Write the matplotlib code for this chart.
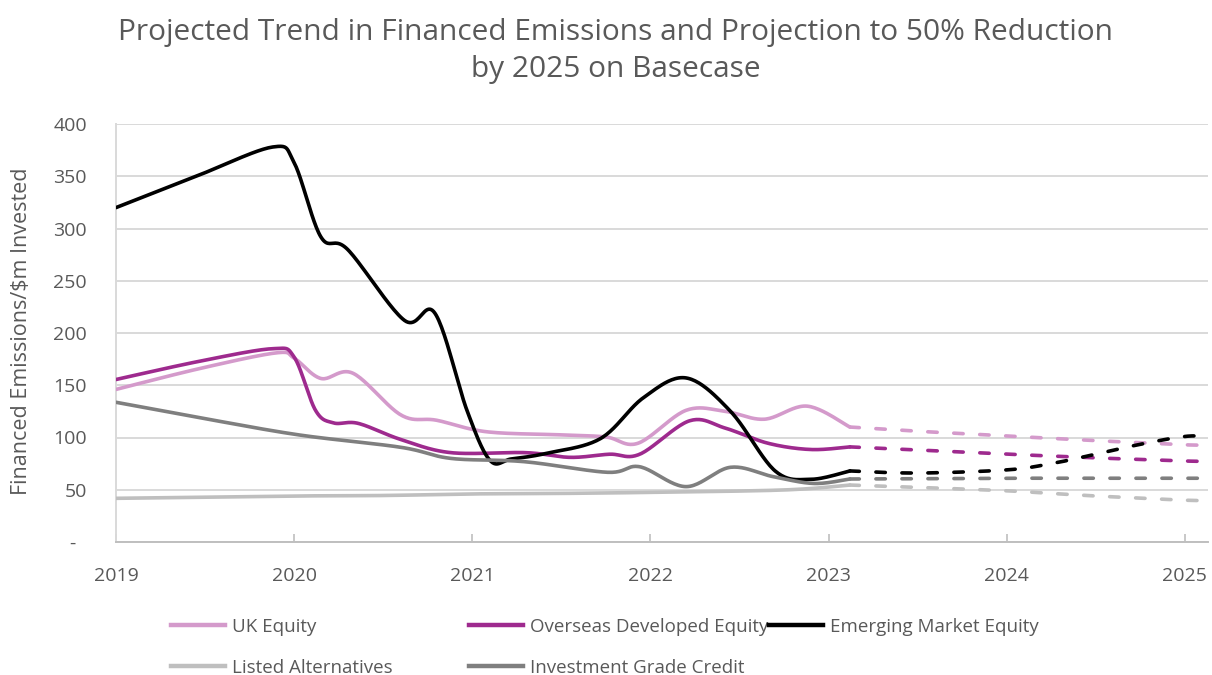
import numpy as np
import matplotlib
matplotlib.use("Agg")
import matplotlib.pyplot as plt
from matplotlib.lines import Line2D

# ---------------- data ----------------
series_names = ["UK Equity", "Overseas Developed Equity", "Emerging Market Equity",
                "Listed Alternatives", "Investment Grade Credit"]

uk_x = [2019.0, 2019.47, 2019.9, 2020.0, 2020.15, 2020.33, 2020.6, 2020.8, 2021.08,
        2021.5, 2021.75, 2021.93, 2022.2, 2022.42, 2022.64, 2022.88, 2023.12]
uk_y = [146, 166, 181, 176, 156.5, 161.5, 121.5, 116.5, 105.5,
        102.5, 100.5, 94.5, 126, 125, 117.5, 130, 110]

ode_x = [2019.0, 2019.47, 2019.88, 2020.0, 2020.12, 2020.22, 2020.36, 2020.6, 2020.88,
         2021.3, 2021.55, 2021.77, 2021.94, 2022.22, 2022.42, 2022.66, 2022.9, 2023.12]
ode_y = [155.5, 173, 185, 177, 126, 114, 113.5, 98, 85.5,
         85.5, 81, 84, 84, 116, 109, 94.5, 88.5, 91]

em_x = [2019.0, 2019.45, 2019.88, 2020.0, 2020.15, 2020.3, 2020.62, 2020.79, 2020.97,
        2021.1, 2021.22, 2021.42, 2021.72, 2021.96, 2022.2, 2022.45, 2022.7, 2022.9, 2023.12]
em_y = [320, 350, 378, 363, 292, 280, 212, 219, 126,
        78, 79.5, 85, 99, 138, 157, 125, 68, 60, 68]

la_x = [2019.0, 2020.0, 2020.5, 2021.0, 2021.5, 2022.0, 2022.75, 2023.12]
la_y = [41.8, 44, 44.5, 46, 46.5, 47.5, 49.8, 54.5]

igc_x = [2019.0, 2019.5, 2020.03, 2020.6, 2020.88, 2021.29, 2021.76, 2021.94, 2022.2,
         2022.45, 2022.69, 2022.92, 2023.12]
igc_y = [133.7, 118, 102.4, 90.6, 80, 76.9, 66.7, 72, 53,
         71.5, 62.5, 56, 60.3]

# projections (dashed)
proj_x = [2023.12, 2023.5, 2024.0, 2024.25, 2024.5, 2024.75, 2025.0, 2025.15]
uk_proj = [110, 106, 101.5, 99.2, 97, 95, 93, 92.5]
ode_proj = [91, 88, 84, 82.3, 80.5, 79, 77.5, 77]
em_proj = [68, 66, 69, 75, 84, 93.5, 101, 101]
la_proj = [54.5, 52.3, 49, 46.5, 44, 42, 40, 39.5]
igc_proj = [60.3, 60.5, 61, 61, 61, 61, 61, 61]

year_ticks = [2019, 2020, 2021, 2022, 2023, 2024, 2025]
value_ticks = [0, 50, 100, 150, 200, 250, 300, 350, 400]
value_labels = ["-  ", "50", "100", "150", "200", "250", "300", "350", "400"]

colors = ["#D49ACB", "#9E2A8E", "#000000", "#BFBFBF", "#7F7F7F"]

title = "Projected Trend in Financed Emissions and Projection to 50% Reduction\nby 2025 on Basecase"
ylabel = "Financed Emissions/$m Invested"

# ---------------- helpers ----------------
XS, YS = 178.0, 1.045  # approx pixels per year / per unit, for screen-space smoothing


def smooth(xs, ys, n=24):
    """Excel-like smoothed line: Catmull-Rom converted to cubic Bezier in screen space."""
    P = np.column_stack([np.asarray(xs, float) * XS, np.asarray(ys, float) * YS])
    if len(P) < 3:
        return np.asarray(xs, float), np.asarray(ys, float)
    Pp = np.vstack([P[0], P, P[-1]])
    out = [P[:1]]
    t = np.linspace(0, 1, n + 1)[1:, None]
    for i in range(1, len(Pp) - 2):
        p0, p1, p2, p3 = Pp[i - 1], Pp[i], Pp[i + 1], Pp[i + 2]
        c1 = p1 + (p2 - p0) / 6.0
        c2 = p2 - (p3 - p1) / 6.0
        seg = ((1 - t) ** 3) * p1 + 3 * ((1 - t) ** 2) * t * c1 + 3 * (1 - t) * t ** 2 * c2 + t ** 3 * p2
        out.append(seg)
    Q = np.vstack(out)
    return Q[:, 0] / XS, Q[:, 1] / YS


# ---------------- figure ----------------
plt.rcParams['font.family'] = ['Open Sans', 'DejaVu Sans']
TXT = "#595959"

fig = plt.figure(figsize=(12.12, 6.75), dpi=100)
ax = fig.add_axes([116 / 1212, 133 / 675, 1092 / 1212, 418 / 675])

solid = [(uk_x, uk_y), (ode_x, ode_y), (em_x, em_y), (la_x, la_y), (igc_x, igc_y)]
proj = [uk_proj, ode_proj, em_proj, la_proj, igc_proj]
order = [3, 4, 0, 1, 2]  # drawing order (light grey at back)
for i in order:
    sx, sy = smooth(*solid[i])
    ax.plot(sx, sy, color=colors[i], lw=2.6, solid_capstyle='round', zorder=3 + i)
    px, py = smooth(proj_x, proj[i])
    ax.plot(px, py, color=colors[i], lw=2.6, dashes=(2.6, 4.6),
            dash_capstyle='round', zorder=3 + i)

ax.set_xlim(2019, 2025.13)
ax.set_ylim(0, 400)
ax.set_xticks(year_ticks)
ax.set_xticklabels([str(y) for y in year_ticks])
ax.set_yticks(value_ticks)
ax.set_yticklabels(value_labels)
ax.yaxis.grid(True, color="#D9D9D9", lw=1.4)
ax.set_axisbelow(True)
for s in ["top", "right"]:
    ax.spines[s].set_visible(False)
ax.spines["left"].set_color("#D9D9D9")
ax.spines["left"].set_linewidth(1.4)
ax.spines["bottom"].set_color("#BFBFBF")
ax.spines["bottom"].set_linewidth(1.4)
ax.tick_params(axis='y', length=0, pad=21, labelsize=14, labelcolor=TXT)
ax.tick_params(axis='x', direction='in', length=6, width=1.2, color="#BFBFBF",
               pad=18, labelsize=14, labelcolor=TXT)

fig.text(22 / 1212, 1 - 331 / 675, ylabel, rotation=90, ha='center', va='center',
         fontsize=15.5, color=TXT)
fig.text(616 / 1212, 1 - 51 / 675, title, ha='center', va='center', fontsize=21.5,
         color=TXT, linespacing=1.35)

# legend (one entry per slot, arranged like the reference)
slots = [(171, 627), (469, 627), (769, 627), (171, 668), (469, 668)]
for i, (lx, ly) in enumerate(slots):
    h = Line2D([], [], color=colors[i], lw=3.2)
    fig.legend([h], [series_names[i]], loc='center left',
               bbox_to_anchor=(lx / 1212, 1 - ly / 675), frameon=False,
               handlelength=2.9, handletextpad=0.35, borderpad=0, borderaxespad=0,
               fontsize=13.5, labelcolor=TXT)

fig.savefig("out.png", dpi=100)
